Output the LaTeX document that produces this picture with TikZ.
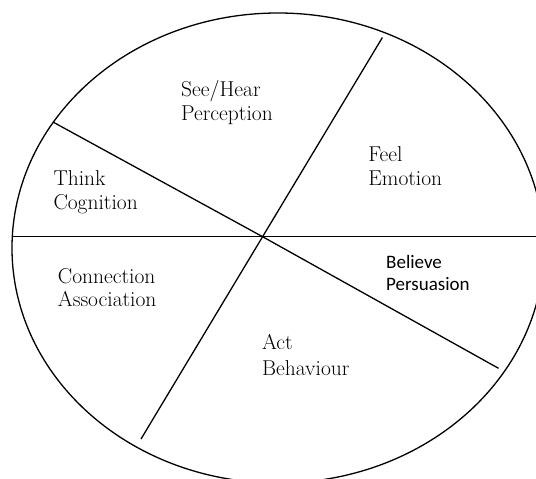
\documentclass[tikz,border=0pt]{standalone}
\usepackage{fontspec}
\newfontfamily\calibrifont{Carlito}
\begin{document}
\begin{tikzpicture}[x=1pt,y=-1pt,
  seg/.style={line width=1.3pt, black},
  lbl/.style={anchor=base west, align=left, inner sep=0pt, font=\fontsize{21.5}{23.5}\selectfont},
  lblsans/.style={anchor=base west, align=left, inner sep=0pt, font=\calibrifont\fontsize{19}{22.4}\selectfont}]
\useasboundingbox (0,0) rectangle (536,479);
\clip (0,0) rectangle (536,479);
\draw[seg] (278,248) ellipse [x radius=266, y radius=235];
\coordinate (c) at (262.6,236.7);
\coordinate (hl) at (12.3,236.7);
\coordinate (hr) at (548,236.7);
\coordinate (al) at (53.5,122.3);
\coordinate (ar) at (498.5,368.3);
\coordinate (bt) at (382.4,37.5);
\coordinate (bb) at (141,439);
\draw[seg] (hl) -- (c) -- (hr);
\draw[seg] (al) -- (c) -- (ar);
\draw[seg] (bt) -- (c) -- (bb);
\node[lbl] (see) at (181,120) {See/Hear\\Perception};
\node[lbl] (think) at (53.3,209) {Think\\Cognition};
\node[lbl] (feel) at (368.2,185) {Feel\\Emotion};
\node[lbl] (conn) at (57.7,306.7) {Connection\\Association};
\node[lbl,font=\fontsize{21.5}{25.5}\selectfont] (act) at (261.9,375) {Act\\Behaviour};
\node[lblsans] (bel) at (386,290.7) {Believe\\Persuasion};
\end{tikzpicture}
\end{document}
